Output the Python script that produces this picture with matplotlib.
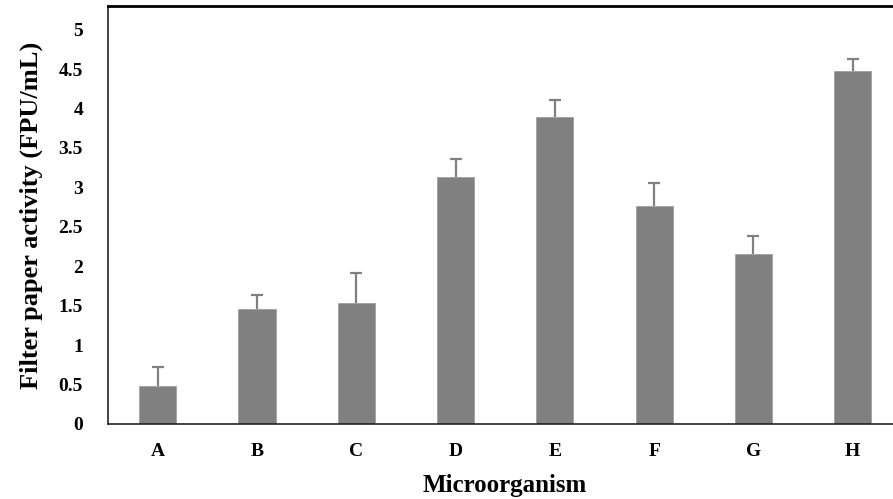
import numpy as np
import matplotlib.pyplot as plt

# values
organisms = ['A', 'B', 'C', 'D', 'E', 'F', 'G', 'H']
activity = [0.48, 1.46, 1.53, 3.13, 3.89, 2.76, 2.16, 4.47]
error = [0.24, 0.17, 0.38, 0.23, 0.22, 0.29, 0.22, 0.16]

plt.rcParams['font.family'] = ['Liberation Serif', 'DejaVu Serif']
plt.rcParams['font.weight'] = 'bold'

fig = plt.figure(figsize=(8.93, 4.99), dpi=100)
ax = fig.add_axes([108 / 893, 1 - 424 / 499, 794.4 / 893, 418 / 499])

x = np.arange(len(organisms))
ax.bar(x, activity, width=0.375, color='#808080', edgecolor='#a0a0a0', linewidth=0.6)
eb = ax.errorbar(x, activity, yerr=[np.zeros(len(error)), error], fmt='none',
                 ecolor='#808080', elinewidth=1.6, capsize=4.5, capthick=1.6)
# only the upper cap is shown
eb[1][0].set_visible(False)

ax.set_xlim(-0.5, 7.5)
ax.set_ylim(0, 5.3)
ax.set_yticks(np.arange(0, 5.01, 0.5))
ax.set_yticklabels(['0', '0.5', '1', '1.5', '2', '2.5', '3', '3.5', '4', '4.5', '5'])
ax.set_xticks(x)
ax.set_xticklabels(organisms)
ax.tick_params(axis='both', length=0, labelsize=14)
ax.tick_params(axis='x', pad=14)
ax.tick_params(axis='y', pad=18)

for s in ['left', 'bottom']:
    ax.spines[s].set_linewidth(1.2)
    ax.spines[s].set_color('#222222')
ax.spines['top'].set_linewidth(2)
ax.spines['right'].set_visible(False)

ax.set_xlabel('Microorganism', fontsize=18, fontweight='bold', labelpad=10)
ax.set_ylabel('Filter paper activity (FPU/mL)', fontsize=19, fontweight='bold', labelpad=11)

fig.savefig('out.png', dpi=100)
